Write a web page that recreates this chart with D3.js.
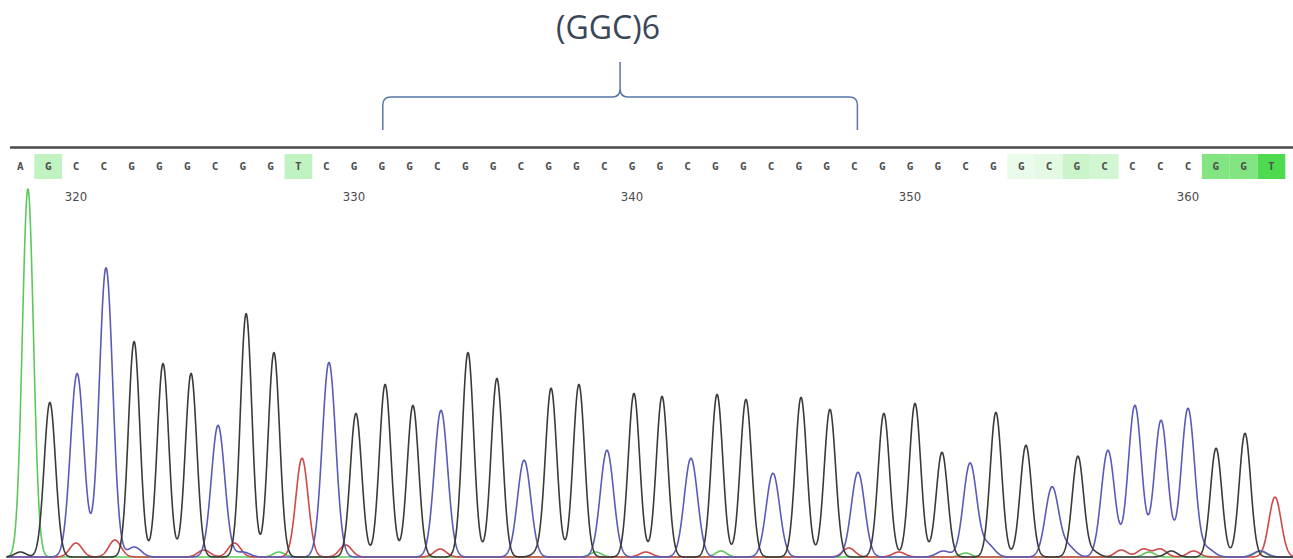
<!DOCTYPE html>
<html>
<head>
<meta charset="utf-8">
<script src="https://cdn.jsdelivr.net/npm/d3@7"></script>
<style>
  html, body { margin: 0; padding: 0; background: #fff; }
  svg { display: block; }
</style>
</head>
<body>
<div id="chart"></div>
<script>
// ---------------- DATA ----------------
const firstBase = 318;
const bases = ["A","G","C","C","G","G","G","C","G","G","T","C","G","G","G","C","G","G","C","G","G","C","G","G","C","G","G","C","G","G","C","G","G","G","C","G","G","C","G","C","C","C","C","G","G","T"];
// peak intensity of the called base (arbitrary units)
const peakHeights = [369,155,184,290,216,194,184,132,244,205,99,195,144,173,152,147,205,179,97,169,173,107,164,161,99,163,158,84,160,148,85,144,154,105,94,145,112,70,101,107,152,137,149,109,124,60];
// shift of the trace peak from the base-call position (in bases)
const peakShift = [0.27,0.06,0.04,0.08,0.09,0.13,0.14,0.11,0.12,0.12,0.13,0.10,0.07,0.12,0.12,0.13,0.10,0.14,0.12,0.09,0.09,0.10,0.07,0.08,0.12,0.06,0.10,0.07,0.08,0.12,0.13,0.06,0.18,0.15,0.16,0.09,0.17,0.11,0.04,0.12,0.09,0.03,0.00,0.01,0.05,0.13];
// quality shading of the base-call cell (0 = none)
const quality = [0,0.3,0,0,0,0,0,0,0,0,0.3,0,0,0,0,0,0,0,0,0,0,0,0,0,0,0,0,0,0,0,0,0,0,0,0,0,0.1,0.13,0.25,0.22,0,0,0,0.6,0.6,0.85];
// small background peaks per dye: [position (base), height]
const minorA = [[327.3,5],[338.7,5],[343.2,6],[352.0,4],[358.6,5],[362.6,6]];
const minorC = [[322.1,10],[326.0,5],[351.2,6],[352.8,12],[355.7,10],[360.7,8],[362.6,6]];
const minorG = [[318.0,5],[336.6,4],[356.6,5],[359.4,6]];
const minorT = [[320.0,14],[321.4,17],[324.6,7],[325.7,14],[329.7,12],[333.1,8],[340.5,5],[347.8,9],[349.6,5],[357.6,7],[358.4,8],[359.0,8],[360.2,6]];
const tickLabels = [320,330,340,350,360];
const repeatLabel = "(GGC)6";
const repeatStart = 331, repeatEnd = 348;
const dyeColors = {A:"#5cc85c", C:"#5a5ab8", G:"#3a3a3a", T:"#d04848"};
const dyeWidth = {A:0.2, C:0.24, G:0.205, T:0.22};   // gaussian sigma in bases

// ---------------- LAYOUT ----------------
const W = 1293, H = 559;
const svg = d3.select("#chart").append("svg").attr("width", W).attr("height", H);
svg.append("rect").attr("width", W).attr("height", H).attr("fill", "#fff");

const lastBase = firstBase + bases.length - 1;
const x = d3.scaleLinear().domain([firstBase, lastBase]).range([20.4, 20.4 + 27.8 * (lastBase - firstBase)]);
const y = d3.scaleLinear().domain([0, 370]).range([557, 188]);

// ---------------- ANNOTATION ----------------
svg.append("text")
  .attr("x", 608).attr("y", 39)
  .attr("text-anchor", "middle")
  .attr("font-family", "'Open Sans', sans-serif")
  .attr("font-size", 32)
  .attr("fill", "#3a4657")
  .text(repeatLabel);

const bx0 = x(repeatStart) + 1, bx1 = x(repeatEnd) + 3, bm = (bx0 + bx1) / 2;
const by = 97, byEnd = 130, byTip = 62, r = 8;
const brace = d3.path();
brace.moveTo(bx0, byEnd); brace.lineTo(bx0, by + r);
brace.quadraticCurveTo(bx0, by, bx0 + r, by);
brace.lineTo(bm - r, by);
brace.quadraticCurveTo(bm, by, bm, by - r);
brace.lineTo(bm, byTip);
brace.moveTo(bm, by - r);
brace.quadraticCurveTo(bm, by, bm + r, by);
brace.lineTo(bx1 - r, by);
brace.quadraticCurveTo(bx1, by, bx1, by + r);
brace.lineTo(bx1, byEnd);
svg.append("path").attr("d", brace.toString())
  .attr("fill", "none").attr("stroke", "#5877a8").attr("stroke-width", 1.5);

// ---------------- SEQUENCE ROW ----------------
svg.append("line").attr("x1", 10).attr("x2", W).attr("y1", 147.5).attr("y2", 147.5)
  .attr("stroke", "#4a4a4a").attr("stroke-width", 2.5);

const shade = d3.interpolateRgb("#ffffff", "#2fd42f");
const baseData = bases.map((b, i) => ({b, pos: firstBase + i, q: quality[i], h: peakHeights[i], s: peakShift[i]}));

svg.append("g").selectAll("rect").data(baseData.filter(d => d.q > 0)).join("rect")
  .attr("x", d => x(d.pos) - 13.9).attr("width", 27.8)
  .attr("y", 154).attr("height", 25)
  .attr("fill", d => shade(d.q));

svg.append("g").selectAll("text").data(baseData).join("text")
  .attr("x", d => x(d.pos)).attr("y", 170)
  .attr("text-anchor", "middle")
  .attr("font-family", "'DejaVu Sans Mono', monospace")
  .attr("font-weight", "bold")
  .attr("font-size", 11)
  .attr("fill", "#505050")
  .text(d => d.b);

svg.append("g").selectAll("text").data(tickLabels).join("text")
  .attr("x", d => x(d)).attr("y", 201)
  .attr("text-anchor", "middle")
  .attr("font-family", "'Liberation Sans Narrow', 'DejaVu Sans Condensed', sans-serif")
  .attr("font-size", 13)
  .attr("fill", "#4a4a4a")
  .text(d => d);

// ---------------- TRACES ----------------
const minor = {A: minorA, C: minorC, G: minorG, T: minorT};
function channel(dye) {
  const sig = dyeWidth[dye];
  const peaks = baseData.filter(d => d.b === dye).map(d => [d.pos + d.s, d.h]).concat(minor[dye]);
  const pts = [];
  for (let p = firstBase - 0.5; p <= lastBase + 0.8; p += 0.01) {
    let v = 0;
    for (const [c, h] of peaks) { const dd = (p - c) / sig; v += h * Math.exp(-0.5 * dd * dd); }
    pts.push([p, v]);
  }
  return pts;
}
const line = d3.line().x(d => x(d[0])).y(d => y(d[1])).curve(d3.curveLinear);
const traceG = svg.append("g");
["A","T","C","G"].forEach(dye => {
  traceG.append("path").datum(channel(dye))
    .attr("d", line)
    .attr("fill", "none")
    .attr("stroke", dyeColors[dye])
    .attr("stroke-width", 1.6)
    .attr("stroke-linejoin", "round");
});
</script>
</body>
</html>
